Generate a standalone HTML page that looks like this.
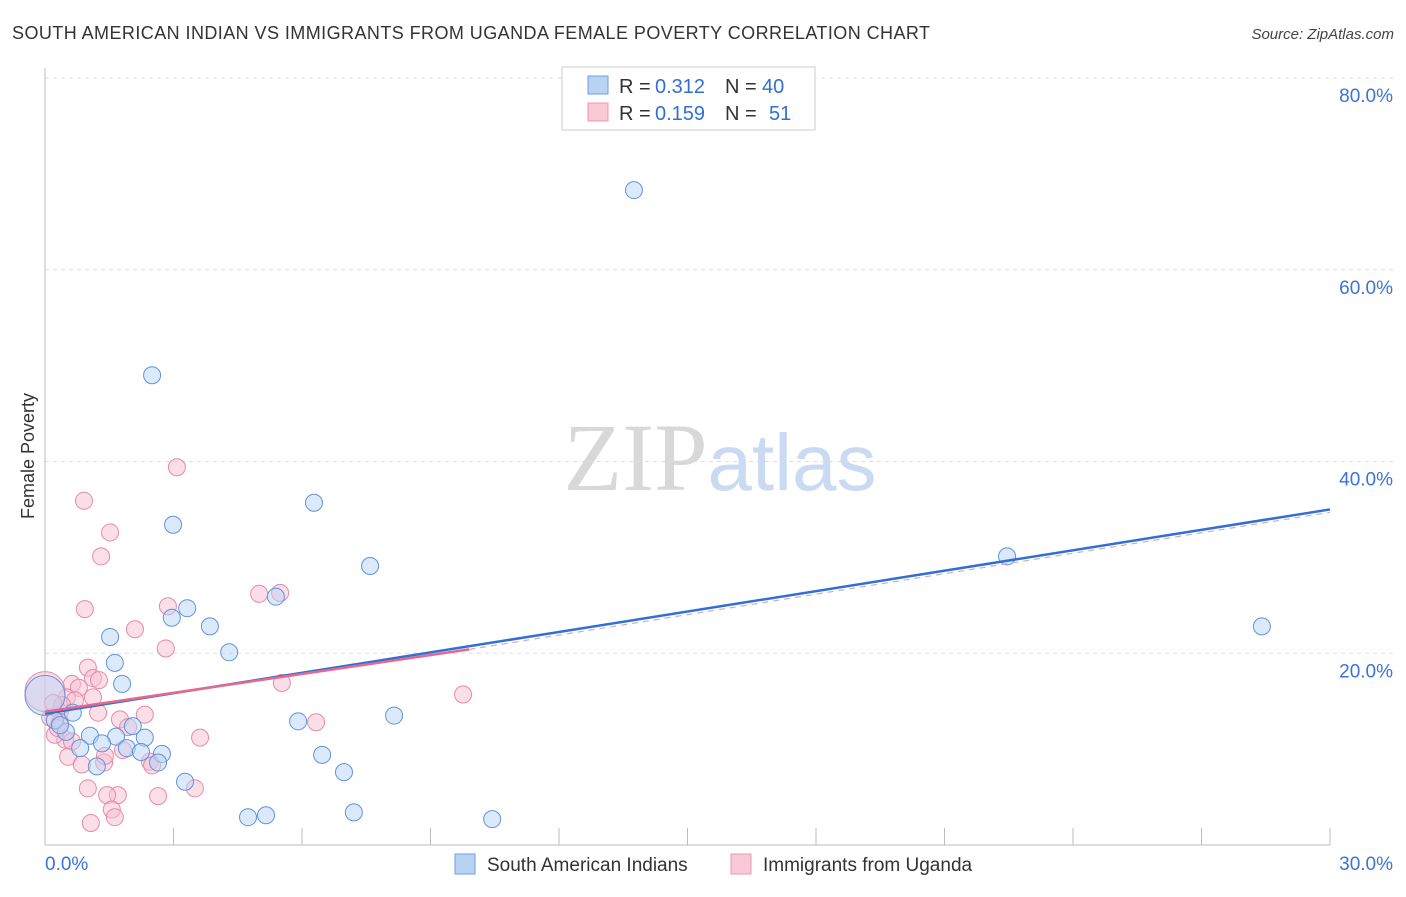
<!DOCTYPE html>
<html><head><meta charset="utf-8"><style>
body{margin:0;background:#fff;font-family:"Liberation Sans",sans-serif;}
svg text{font-family:"Liberation Sans",sans-serif;}
</style></head><body>
<svg id="chart" width="1406" height="892" viewBox="0 0 1406 892" xmlns="http://www.w3.org/2000/svg">
<text x="12" y="39" font-size="18" fill="#333" textLength="918" lengthAdjust="spacing">SOUTH AMERICAN INDIAN VS IMMIGRANTS FROM UGANDA FEMALE POVERTY CORRELATION CHART</text>
<text x="1394" y="39" font-size="15" fill="#444" font-style="italic" text-anchor="end">Source: ZipAtlas.com</text>
<text x="720" y="490" font-size="96" text-anchor="middle"><tspan fill="#d8d8d8" font-family="Liberation Serif">ZIP</tspan><tspan fill="#c9daf2" font-size="80">atlas</tspan></text>
<text transform="translate(34,456) rotate(-90)" font-size="18" fill="#333" text-anchor="middle">Female Poverty</text>
<g id="grid"></g><g id="axes"></g><g id="marks"></g><g id="trends"></g>
<g>
<rect x="562" y="67" width="253" height="63" fill="#fff" stroke="#ccc"/>
<rect x="588" y="76" width="20" height="18" fill="#b9d3f5" stroke="#6d9fe0"/>
<rect x="588" y="103" width="20" height="18" fill="#f9c9d8" stroke="#ec94b1"/>
<text x="619" y="93" font-size="20" fill="#333">R =</text>
<text x="655" y="93" font-size="20" fill="#2f6fd6">0.312</text>
<text x="725" y="93" font-size="20" fill="#333">N =</text>
<text x="762" y="93" font-size="20" fill="#2f6fd6">40</text>
<text x="619" y="120" font-size="20" fill="#333">R =</text>
<text x="655" y="120" font-size="20" fill="#2f6fd6">0.159</text>
<text x="725" y="120" font-size="20" fill="#333">N =</text>
<text x="769" y="120" font-size="20" fill="#2f6fd6">51</text>
</g>
<g>
<rect x="455" y="854" width="20" height="20" fill="#b9d3f5" stroke="#6d9fe0"/>
<text x="487" y="871" font-size="19" fill="#333">South American Indians</text>
<rect x="731" y="854" width="20" height="20" fill="#f9c9d8" stroke="#ec94b1"/>
<text x="763" y="871" font-size="19" fill="#333">Immigrants from Uganda</text>
</g>
</svg>
<script>
const blueX=[13.75,2.5,6.28,2.99,7.59,22.46,28.41,5.39,3.32,2.96,3.85,1.52,4.3,1.63,1.8,0.65,5.91,8.15,2.05,0.49,1.05,1.66,1.33,2.33,0.82,1.91,2.73,2.24,2.64,1.21,6.47,6.98,3.27,4.74,5.16,7.21,10.44,0.23,0.0,0.35];
const blueY=[68.3,49.0,35.7,33.4,29.1,30.1,22.8,25.9,24.7,23.7,22.8,21.7,20.1,19.0,16.8,13.8,12.9,13.5,12.4,11.8,11.4,11.3,10.6,11.2,10.1,10.1,9.5,9.7,8.6,8.2,9.4,7.6,6.6,2.9,3.1,3.4,2.7,13.0,15.6,12.5];
const pinkX=[3.08,0.91,1.52,1.31,5.0,5.49,2.87,0.93,2.1,2.82,1.0,1.12,1.26,0.63,0.79,1.12,9.76,5.53,0.51,0.35,1.75,6.33,1.94,3.62,0.47,0.63,0.23,1.82,0.54,0.86,2.45,2.5,1.38,1.0,1.7,1.45,2.64,3.5,1.56,1.63,1.07,0.0,0.12,0.35,0.7,0.4,1.24,0.19,1.4,2.33,0.3];
const pinkY=[39.4,35.9,32.6,30.1,26.2,26.3,24.9,24.6,22.5,20.5,18.5,17.4,17.2,16.8,16.4,15.4,15.7,16.9,15.4,13.9,13.1,12.8,12.3,11.2,11.0,10.8,11.5,9.9,9.2,8.4,8.7,8.3,8.6,5.9,5.2,5.2,5.1,5.9,3.7,2.9,2.3,16.0,13.3,12.8,15.1,14.6,13.8,14.8,9.3,13.6,12.2];
const yTicks=[20,40,60,80];
const xTickLabels=["0.0%","30.0%"];
const blueTrend=[13.7,35.0];
const pinkTrend=[13.9,20.4,34.7];
const X=v=>45+v/30*1285, Y=v=>845-v/20*191.75;
const NS="http://www.w3.org/2000/svg";
function mk(p,t,a){const e=document.createElementNS(NS,t);for(const k in a)e.setAttribute(k,a[k]);p.appendChild(e);return e;}
const grid=document.getElementById('grid'),axes=document.getElementById('axes'),marks=document.getElementById('marks'),tr=document.getElementById('trends');
yTicks.forEach(t=>{
 const l=mk(grid,'line',{x1:45,x2:1395,y1:Y(t),y2:Y(t),stroke:'#ddd','stroke-dasharray':'4,4'});
 
 
 const tx=mk(grid,'text',{x:1393,y:Y(t)+24,'font-size':19,fill:'#3b73d6','text-anchor':'end'});tx.textContent=t.toFixed(1)+'%';
 
 
});
const ya=mk(axes,'line',{x1:45,x2:45,y1:68,y2:845,stroke:'#bbb'});


const xa=mk(axes,'line',{x1:45,x2:1330,y1:845,y2:845,stroke:'#bbb'});


for(let i=1;i<=10;i++){const t=mk(axes,'line',{x1:X(i*3),x2:X(i*3),y1:828,y2:845,stroke:'#bbb'});
 
 }
[[0,'start',45],[1,'end',1393]].forEach(([i,a,x])=>{const t=mk(axes,'text',{x:x,y:870,'font-size':19,fill:'#3b73d6','text-anchor':a});t.textContent=xTickLabels[i];
 
 });
function pts(xs,ys,fill,stroke,name){xs.forEach((x,i)=>{
 const big=(x===0);
 const c=mk(marks,'circle',{cx:X(x),cy:Y(ys[i]),r:big?20:8.5,fill:fill,'fill-opacity':0.5,stroke:stroke,'stroke-width':1});
 
 });}
pts(pinkX,pinkY,'#f7bfd1','#e889a8','uganda-point');
pts(blueX,blueY,'#b9d3f5','#5e94dc','sa-indian-point');
const pd=mk(tr,'line',{x1:X(9.9),y1:Y(pinkTrend[1]),x2:X(30),y2:Y(pinkTrend[2]),stroke:'#d8a8b8','stroke-width':1.2,'stroke-dasharray':'6,5'});


const bl=mk(tr,'line',{x1:X(0),y1:Y(blueTrend[0]),x2:X(30),y2:Y(blueTrend[1]),stroke:'#2f6fd6','stroke-width':2.5});


const pl=mk(tr,'line',{x1:X(0),y1:Y(pinkTrend[0]),x2:X(9.9),y2:Y(pinkTrend[1]),stroke:'#e5688f','stroke-width':2.5});


</script>
</body></html>
